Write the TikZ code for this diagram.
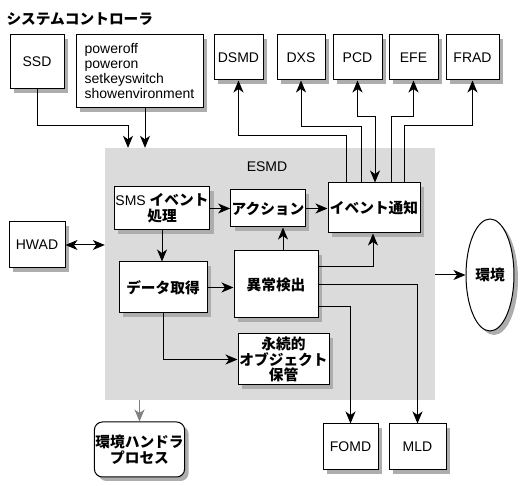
\documentclass[tikz,border=0pt]{standalone}
\usepackage{fontspec}
\setmainfont{Liberation Sans}
\newfontfamily\jp{Noto Sans CJK JP}[Scale=1.05]
\usepackage{xcolor}
\definecolor{esmdgray}{gray}{0.86}
\definecolor{shadowgray}{gray}{0.68}
\usepackage{tikz}
\usetikzlibrary{positioning, arrows.meta, shadows, shapes.geometric}
\tikzset{
	box/.style={draw=black, fill=white, line width=1pt, inner sep=1pt, align=center,
	drop shadow={shadow xshift=4pt, shadow yshift=-4pt, fill=shadowgray, opacity=1}},
	topbox/.style={box, minimum height=45pt},
	esmdbox/.style={fill=esmdgray, draw=none}
}
\tikzset{
	arr/.style={line width=1pt, -{Stealth[length=12pt, width=10pt, inset=3.5pt]}},
	arrboth/.style={line width=1pt, {Stealth[length=12pt, width=10pt, inset=3.5pt]}-{Stealth[length=12pt, width=10pt, inset=3.5pt]}}
}
\newcommand{\jpb}[1]{{\jp\bfseries #1}}

\begin{document}
\begin{tikzpicture}[x=1pt, y=-1pt, font=\fontsize{14}{16}\selectfont]
	\useasboundingbox (0,0) rectangle (531,486);

	% esmd background
	\node[esmdbox, minimum width=330pt, minimum height=252pt] (esmd) at (270,274) {};
	\node (esmdlabel) at (267,167) {ESMD};

	% system controller
	\node[anchor=west] (title) at (3,19) {\jpb{システムコントローラ}};
	\node[box, minimum width=54pt, minimum height=54pt] (ssd) at (37,62) {SSD};
	\node[box, minimum width=127pt, minimum height=73pt, align=left, font=\fontsize{14}{15}\selectfont] (cmds) at (139.5,71.5) {poweroff\\poweron\\setkeyswitch\\showenvironment};

	% notification targets
	\node[topbox, minimum width=49pt] (dsmd) at (238.5,57.5) {DSMD};
	\node[topbox, minimum width=48pt] (dxs) at (301,57.5) {DXS};
	\node[topbox, minimum width=49pt] (pcd) at (357.5,57.5) {PCD};
	\node[topbox, minimum width=49pt] (efe) at (413.5,57.5) {EFE};
	\node[topbox, minimum width=53pt] (frad) at (472.5,57.5) {FRAD};

	% esmd internals
	\node[box, minimum width=94pt, minimum height=43pt] (sms) at (162,208.5) {SMS \jpb{イベント}\\\jpb{処理}};
	\node[box, minimum width=70pt, minimum height=37pt] (act) at (268,208.5) {\jpb{アクション}};
	\node[box, minimum width=92pt, minimum height=50pt] (evt) at (374,208) {\jpb{イベント通知}};
	\node[box, minimum width=88pt, minimum height=51pt] (dat) at (163,287.5) {\jpb{データ取得}};
	\node[box, minimum width=84pt, minimum height=67pt] (ano) at (276,284.5) {\jpb{異常検出}};
	\node[box, minimum width=91pt, minimum height=51pt, font=\fontsize{14}{15.5}\selectfont] (pers) at (283.5,359.5) {\jpb{永続的}\\\jpb{オブジェクト}\\\jpb{保管}};

	% outside
	\node[box, minimum width=56pt, minimum height=46pt] (hwad) at (37,245) {HWAD};
	\node[box, ellipse, inner sep=0pt, minimum width=48pt, minimum height=112pt] (env) at (490,275) {\jpb{環境}};
	\node[box, rounded corners=8pt, minimum width=85pt, minimum height=55pt] (envh) at (139.5,449.5) {\jpb{環境ハンドラ}\\\jpb{プロセス}};
	\node[box, minimum width=55pt, minimum height=46pt] (fomd) at (350.5,447) {FOMD};
	\node[box, minimum width=57pt, minimum height=46pt] (mld) at (417.5,447) {MLD};

	% into esmd
	\draw[arr] (ssd.south) -- ++(0,36) -| ([xshift=-142pt]esmd.north);
	\draw[arr] ([xshift=5.5pt]cmds.south) -- ([xshift=-125pt]esmd.north);
	\draw[arrboth] (hwad.east) -- (hwad.east -| esmd.west);

	% event notification out
	\draw[arr] ([xshift=-28pt]evt.north) -- ++(0,-47) -| (dsmd);
	\draw[arr] ([xshift=-13pt]evt.north) -- ++(0,-56) -| (dxs);
	\draw[arrboth] ([xshift=1pt]evt.north) -- ++(0,-66) -| (pcd);
	\draw[arr] ([xshift=17pt]evt.north) -- ++(0,-66) -| (efe);
	\draw[arr] ([xshift=30pt]evt.north) -- ++(0,-57) -| (frad);

	% inside esmd
	\draw[arr] (sms) -- (act);
	\draw[arr] (act.east) -- (act.east -| evt.west);
	\draw[arr] (sms.south) -- (sms.south |- dat.north);
	\draw[arr] (dat.east) -- (dat.east -| ano.west);
	\draw[arr] ([xshift=7pt]ano.north) -- ([xshift=7pt]ano.north |- act.south);
	\draw[arr] (dat.south) |- (pers.west);

	% anomaly out
	\draw[arr] ([yshift=17.5pt]ano.east) -| ([xshift=-1pt]evt.south);
	\draw[arr] (ano.east) -| (mld);
	\draw[arr] ([yshift=-22.5pt]ano.east) -| (fomd);

	% esmd out
	\draw[arr] (esmd.east |- env.west) -- (env.west);
	\draw[arr, gray] (envh.north |- esmd.south) -- (envh.north);

\end{tikzpicture}
\end{document}
